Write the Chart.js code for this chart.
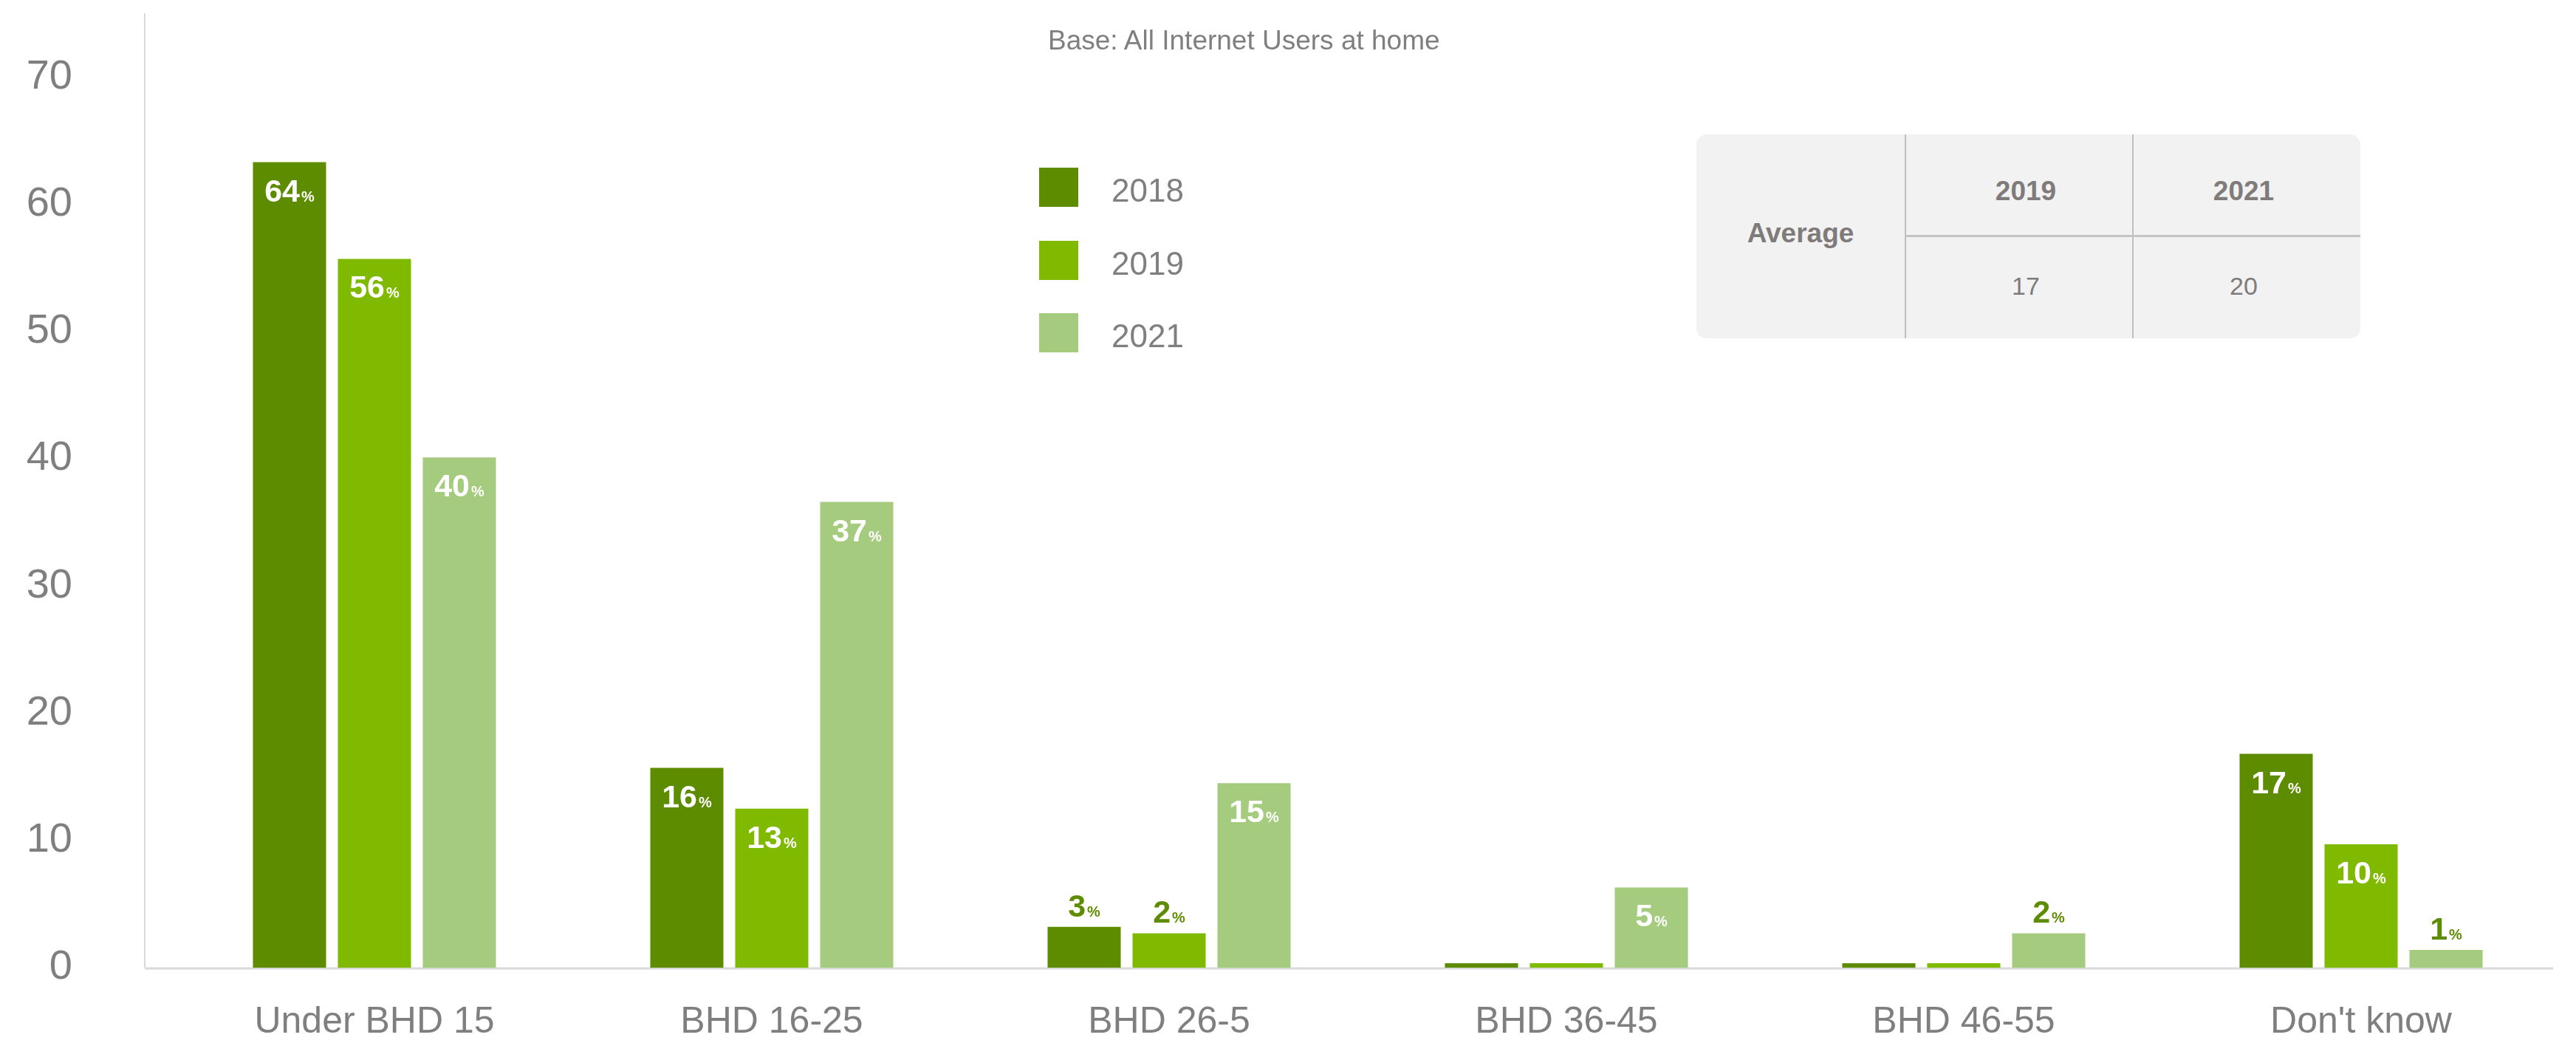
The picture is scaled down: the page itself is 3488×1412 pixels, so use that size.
<!DOCTYPE html>
<html>
<head>
<meta charset="utf-8">
<script src="https://cdn.jsdelivr.net/npm/chart.js@4.4.1/dist/chart.umd.min.js"></script>
<style>
html,body{margin:0;padding:0;background:#fff;}
#wrap{position:relative;width:3488px;height:1412px;overflow:hidden;font-family:"Liberation Sans",Arial,sans-serif;}
#chart{position:absolute;left:0;top:0;}
#base{position:absolute;left:1419px;top:33px;font-size:37px;line-height:44px;color:#7f7f7f;white-space:nowrap;}
.leg{position:absolute;left:1407px;height:53px;}
.leg .sw{position:absolute;left:0;top:0;width:53px;height:53px;}
.leg .tx{position:absolute;left:98px;top:4px;font-size:44px;line-height:53px;color:#7f7f7f;white-space:nowrap;}
#avg{position:absolute;left:2297px;top:182px;width:899px;height:276px;background:#f2f2f2;border-radius:14px;}
#avg .vl{position:absolute;top:0;width:2px;height:276px;background:#bfbfbf;}
#avg .hl{position:absolute;left:283px;top:136px;width:616px;height:3px;background:#c4c4c4;}
#avg .c{position:absolute;transform:translate(-50%,-50%);color:#7f7b7b;white-space:nowrap;}
#avg .b{font-weight:bold;font-size:37px;}
#avg .n{font-size:34px;}
</style>
</head>
<body>
<div id="wrap">
  <canvas id="chart" width="3488" height="1412"></canvas>
  <div id="base">Base: All Internet Users at home</div>
  <div id="legend"></div>
  <div id="avg"></div>
</div>
<script>
// ---- data ----
const categories = ['Under BHD 15', 'BHD 16-25', 'BHD 26-5', 'BHD 36-45', 'BHD 46-55', "Don't know"];
const seriesNames = ['2018', '2019', '2021'];
const values2018 = [63.3, 15.7, 3.2, 0.35, 0.35, 16.8];
const values2019 = [55.7, 12.5, 2.7, 0.35, 0.35, 9.7];
const values2021 = [40.1, 36.6, 14.5, 6.3, 2.7, 1.4];
const labels2018 = [64, 16, 3, null, null, 17];
const labels2019 = [56, 13, 2, null, null, 10];
const labels2021 = [40, 37, 15, 5, 2, 1];
const yTicks = [0, 10, 20, 30, 40, 50, 60, 70];
const averageYears = ['2019', '2021'];
const averageValues = [17, 20];
const averageTitle = 'Average';
const subtitle = 'Base: All Internet Users at home';

// ---- styles ----
const colors = ['#5e8c00', '#7fba00', '#a5cb7e'];
const gray = '#7f7f7f';
const darkLabel = '#5e8c00';
const FAM = '"Liberation Sans", Arial, sans-serif';

// legend (HTML)
const legendEl = document.getElementById('legend');
const legendTops = [227, 326, 424];
seriesNames.forEach((name, i) => {
  const d = document.createElement('div');
  d.className = 'leg';
  d.style.top = legendTops[i] + 'px';
  d.innerHTML = '<div class="sw" style="background:' + colors[i] + '"></div><div class="tx">' + name + '</div>';
  legendEl.appendChild(d);
});
document.getElementById('base').textContent = subtitle;

// average table (HTML)
const avg = document.getElementById('avg');
const colCenters = [446, 741];
avg.innerHTML =
  '<div class="vl" style="left:282px"></div><div class="vl" style="left:590px"></div><div class="hl"></div>' +
  '<div class="c b" style="left:141px;top:134px">' + averageTitle + '</div>' +
  averageYears.map((y, i) => '<div class="c b" style="left:' + colCenters[i] + 'px;top:77px">' + y + '</div>').join('') +
  averageValues.map((v, i) => '<div class="c n" style="left:' + colCenters[i] + 'px;top:205px">' + v + '</div>').join('');

// plugins
const axisLines = {
  id: 'axisLines',
  beforeDatasetsDraw(chart) {
    const { ctx, chartArea, scales } = chart;
    const x0 = chartArea.left - 42;
    const y0 = scales.y.getPixelForValue(0);
    ctx.save();
    ctx.strokeStyle = '#d9d9d9';
    ctx.lineWidth = 2;
    ctx.beginPath(); ctx.moveTo(x0, chartArea.top); ctx.lineTo(x0, y0); ctx.stroke();
    ctx.lineWidth = 3;
    ctx.beginPath(); ctx.moveTo(x0, y0 + 1); ctx.lineTo(chartArea.right - 9, y0 + 1); ctx.stroke();
    ctx.restore();
  }
};

const valueLabels = {
  id: 'valueLabels',
  afterDatasetsDraw(chart) {
    const ctx = chart.ctx;
    const big = 'bold 43px ' + FAM;
    const small = 'bold 20px ' + FAM;
    chart.data.datasets.forEach((ds, di) => {
      const meta = chart.getDatasetMeta(di);
      meta.data.forEach((bar, i) => {
        const txt = ds.pctLabels[i];
        if (txt === null || txt === undefined) return;
        const h = bar.base - bar.y;
        const inside = h > 80;
        ctx.save();
        ctx.textAlign = 'left';
        ctx.textBaseline = 'alphabetic';
        ctx.font = big; const w1 = ctx.measureText(String(txt)).width;
        ctx.font = small; const w2 = ctx.measureText('%').width;
        const gap = 2;
        const x0 = bar.x - (w1 + gap + w2) / 2;
        const baseline = inside ? bar.y + 53 : bar.y - 14;
        ctx.fillStyle = inside ? '#ffffff' : darkLabel;
        ctx.font = big; ctx.fillText(String(txt), x0, baseline);
        ctx.font = small; ctx.fillText('%', x0 + w1 + gap, baseline);
        ctx.restore();
      });
    });
  }
};

const seriesValues = [values2018, values2019, values2021];
const seriesLabels = [labels2018, labels2019, labels2021];

new Chart(document.getElementById('chart'), {
  type: 'bar',
  data: {
    labels: categories,
    datasets: seriesNames.map((n, i) => ({
      label: n,
      data: seriesValues[i],
      pctLabels: seriesLabels[i],
      backgroundColor: colors[i],
      borderWidth: 0,
      categoryPercentage: 0.6413,
      barPercentage: 0.861
    }))
  },
  options: {
    responsive: false,
    animation: false,
    devicePixelRatio: 1,
    layout: { autoPadding: false, padding: { top: 18, right: 22, left: 0, bottom: 0 } },
    plugins: { legend: { display: false }, title: { display: false }, tooltip: { enabled: false } },
    scales: {
      x: {
        type: 'category',
        offset: true,
        grid: { display: false, drawTicks: false },
        border: { display: false },
        ticks: { color: gray, font: { family: FAM, size: 50 }, padding: 44, maxRotation: 0, autoSkip: false },
        afterFit(s) { s.height = 102; s.paddingLeft = 0; s.paddingRight = 0; }
      },
      y: {
        min: 0,
        max: 75,
        grid: { display: false, drawTicks: false },
        border: { display: false },
        ticks: { stepSize: 10, color: gray, font: { family: FAM, size: 56 }, padding: 140 },
        afterBuildTicks(s) { s.ticks = yTicks.map(v => ({ value: v })); },
        afterFit(s) { s.width = 238; s.paddingTop = 0; s.paddingBottom = 0; }
      }
    }
  },
  plugins: [axisLines, valueLabels]
});
</script>
</body>
</html>
